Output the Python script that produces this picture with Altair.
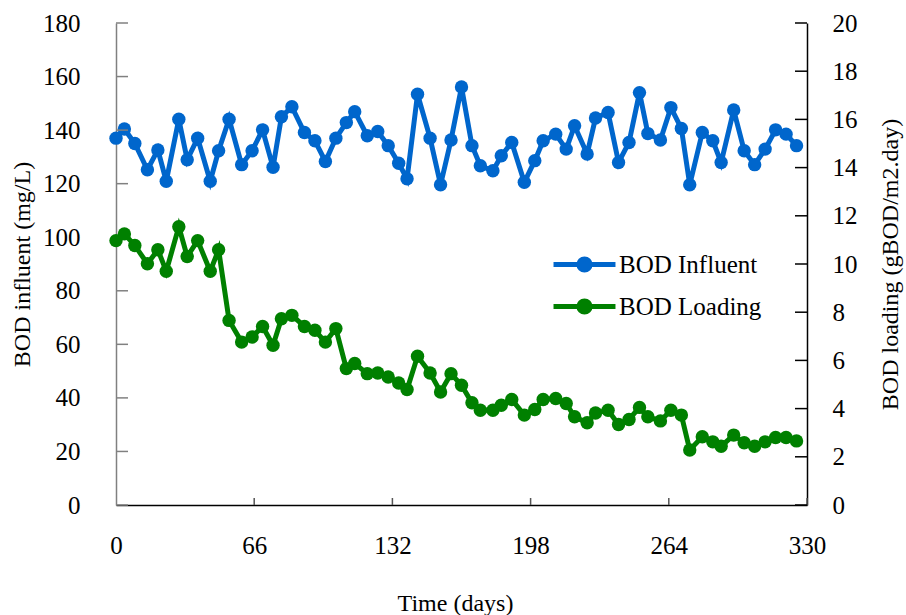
import altair as alt
import pandas as pd

days = [0, 4, 9, 15, 20, 24, 30, 34, 39, 45, 49, 54, 60, 65, 70, 75, 79, 84, 90, 95,
        100, 105, 110, 114, 120, 125, 130, 135, 139, 144, 150, 155, 160, 165, 170, 174, 180, 184, 189, 195,
        200, 204, 210, 215, 219, 225, 229, 235, 240, 245, 250, 254, 260, 265, 270, 274, 280, 285, 289, 295,
        300, 305, 310, 315, 320, 325]

bod_influent = [137.0, 140.4, 135.0, 125.2, 132.6, 120.9, 144.1, 128.9, 137.0, 120.9,
                132.3, 144.1, 127.1, 132.3, 140.1, 126.1, 145.0, 148.7, 139.1, 136.0,
                128.3, 137.0, 142.8, 146.9, 137.9, 139.5, 134.2, 127.6, 121.8, 153.4,
                137.0, 119.6, 136.3, 156.1, 134.2, 126.7, 124.8, 130.4, 135.4, 120.5,
                128.6, 136.0, 138.5, 132.9, 141.6, 131.1, 144.5, 146.6, 127.9, 135.4,
                154.0, 138.7, 136.3, 148.4, 140.6, 119.6, 139.1, 136.0, 127.9, 147.5,
                132.3, 127.1, 132.9, 140.1, 138.5, 134.2]

bod_loading = [10.97, 11.25, 10.77, 10.01, 10.59, 9.70, 11.55, 10.31, 10.97, 9.70,
               10.59, 7.66, 6.76, 6.97, 7.41, 6.63, 7.73, 7.87, 7.41, 7.25,
               6.76, 7.32, 5.66, 5.87, 5.45, 5.48, 5.31, 5.06, 4.79, 6.17,
               5.48, 4.69, 5.45, 4.97, 4.24, 3.93, 3.93, 4.14, 4.38, 3.73,
               3.96, 4.38, 4.42, 4.21, 3.66, 3.41, 3.82, 3.93, 3.34, 3.55,
               4.05, 3.66, 3.49, 3.93, 3.73, 2.28, 2.83, 2.62, 2.44, 2.90,
               2.58, 2.44, 2.62, 2.80, 2.80, 2.66]

series_names = ["BOD Influent", "BOD Loading"]
series_colors = ["#0066CC", "#008000"]
x_ticks = [0, 66, 132, 198, 264, 330]
left_ticks = [0, 20, 40, 60, 80, 100, 120, 140, 160, 180]
right_ticks = [0, 2, 4, 6, 8, 10, 12, 14, 16, 18, 20]

W, H = 691, 482
FONT = "Liberation Serif"

df_in = pd.DataFrame({"day": days, "value": bod_influent, "series": series_names[0]})
df_ld = pd.DataFrame({"day": days, "value": bod_loading, "series": series_names[1]})

xscale = alt.Scale(domain=[0, 330], nice=False, zero=False)
color = alt.Color(
    "series:N",
    scale=alt.Scale(domain=series_names, range=series_colors),
    legend=alt.Legend(
        title=None, orient="none", legendX=456, legendY=229,
        symbolType="M-4,0H4M0.72,0A0.72,0.72,0,1,1,-0.72,0A0.72,0.72,0,1,1,0.72,0Z",
        symbolSize=240, symbolStrokeWidth=5, labelOffset=22, rowPadding=9,
        labelFont=FONT, labelFontSize=25, labelColor="black", labelLimit=400,
    ),
)

xaxis = alt.Axis(values=x_ticks, tickSize=0, labelPadding=28, labelFlush=False, labelFont=FONT,
                 labelFontSize=25, labelColor="black", title="Time (days)", titleFont=FONT,
                 titleFontSize=24, titleFontWeight="normal", titleColor="black", titleX=339, titleY=98,
                 titleBaseline="middle", domainColor="black", domainWidth=1.5, grid=False)

left_axis = alt.Axis(orient="left", values=left_ticks, tickSize=0, labelPadding=36, labelFont=FONT,
                     labelFontSize=25, labelColor="black", title="BOD influent (mg/L)", titleFont=FONT,
                     titleFontSize=24, titleFontWeight="normal", titleColor="black", titleX=-94,
                     titleY=H / 2, titleAngle=270, titleAlign="center", titleBaseline="middle",
                     domainColor="#808080", domainWidth=1.5, grid=False)

right_axis = alt.Axis(orient="right", values=right_ticks, tickSize=0, labelPadding=25, labelFont=FONT,
                      labelFontSize=25, labelColor="black", title="BOD loading (gBOD/m2.day)",
                      titleFont=FONT, titleFontSize=24, titleFontWeight="normal", titleColor="black",
                      titleX=83, titleY=H / 2, titleAngle=270, titleAlign="center",
                      titleBaseline="middle", domainColor="black", domainWidth=1.5, grid=False)

yl_scale = alt.Scale(domain=[0, 180], nice=False)
yr_scale = alt.Scale(domain=[0, 20], nice=False)

base_in = alt.Chart(df_in).encode(
    x=alt.X("day:Q", scale=xscale, axis=xaxis),
    y=alt.Y("value:Q", scale=yl_scale, axis=left_axis),
    color=color,
)
line_in = base_in.mark_line(strokeWidth=5)
pts_in = base_in.mark_point(filled=True, size=180, opacity=1)

lt = alt.Chart(pd.DataFrame({"value": left_ticks})).mark_rule(color="#808080", strokeWidth=1.5).encode(
    y=alt.Y("value:Q", scale=yl_scale, axis=left_axis), x=alt.value(0), x2=alt.value(12))
bt = alt.Chart(pd.DataFrame({"day": x_ticks[1:]})).mark_rule(color="#555555", strokeWidth=1.5).encode(
    x=alt.X("day:Q", scale=xscale, axis=xaxis), y=alt.value(H - 7), y2=alt.value(H))

base_ld = alt.Chart(df_ld).encode(
    x=alt.X("day:Q", scale=xscale, axis=xaxis),
    y=alt.Y("value:Q", scale=yr_scale, axis=right_axis),
    color=color,
)
line_ld = base_ld.mark_line(strokeWidth=5)
pts_ld = base_ld.mark_point(filled=True, size=180, opacity=1)
rt = alt.Chart(pd.DataFrame({"value": right_ticks})).mark_rule(color="black", strokeWidth=1.5).encode(
    y=alt.Y("value:Q", scale=yr_scale, axis=right_axis), x=alt.value(W - 12), x2=alt.value(W))

left = alt.layer(line_in, pts_in, lt, bt)
right = alt.layer(line_ld, pts_ld, rt)

chart = alt.layer(left, right).resolve_scale(y="independent").properties(
    width=W, height=H,
    background="white",
    autosize=alt.AutoSizeParams(type="none"),
    padding={"left": 116, "top": 23, "right": 906 - 116 - W, "bottom": 615 - 23 - H},
).configure_view(stroke=None)

chart.save("out.html", embed_options={"renderer": "svg", "actions": False})
